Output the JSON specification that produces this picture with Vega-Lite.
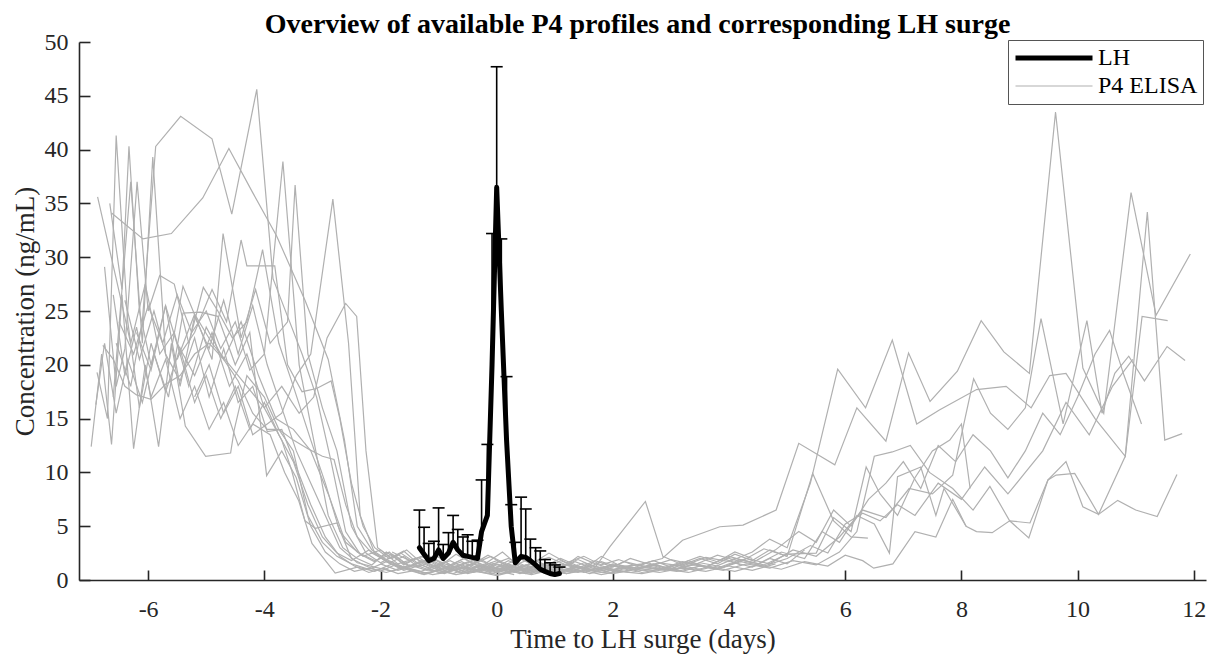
{
  "$schema": "https://vega.github.io/schema/vega-lite/v6.json",
  "autosize": {"type": "none"},
  "width": 1127,
  "height": 538,
  "padding": {"left": 79, "top": 42, "right": 8, "bottom": 80},
  "background": "white",
  "config": {
    "view": {"stroke": null},
    "font": "Liberation Serif",
    "axis": {"grid": false, "domainColor": "#262626", "tickColor": "#262626", "domainWidth": 1.6, "tickWidth": 1.6, "labelColor": "#262626", "titleColor": "#262626", "labelFont": "Liberation Serif", "titleFont": "Liberation Serif", "labelFontSize": 24, "titleFontSize": 27, "titleFontWeight": "normal"}
  },
  "title": {"text": "Overview of available P4 profiles and corresponding LH surge", "font": "Liberation Serif", "fontSize": 28, "fontWeight": "bold", "color": "black", "anchor": "middle", "offset": 4, "dx": -5, "dy": 13},
  "datasets": {
    "lh": [
      {"t": -1.33, "v": 3.0, "hi": 6.5}, {"t": -1.25, "v": 2.4, "hi": 4.9}, {"t": -1.17, "v": 1.8, "hi": 3.4}, {"t": -1.08, "v": 2.0, "hi": 3.6}, {"t": -1.0, "v": 2.8, "hi": 6.7}, {"t": -0.92, "v": 2.0, "hi": 3.3}, {"t": -0.83, "v": 2.5, "hi": 4.4}, {"t": -0.75, "v": 3.5, "hi": 6.0}, {"t": -0.67, "v": 2.8, "hi": 4.7}, {"t": -0.58, "v": 2.3, "hi": 4.0}, {"t": -0.5, "v": 2.2, "hi": 4.2}, {"t": -0.42, "v": 2.1, "hi": 3.6}, {"t": -0.33, "v": 2.0, "hi": 3.7}, {"t": -0.26, "v": 4.5, "hi": 9.3}, {"t": -0.16, "v": 6.0, "hi": 12.6}, {"t": -0.08, "v": 20.0, "hi": 32.2}, {"t": 0.0, "v": 36.5, "hi": 47.7}, {"t": 0.08, "v": 25.0, "hi": 31.7}, {"t": 0.17, "v": 13.0, "hi": 18.9}, {"t": 0.25, "v": 5.0, "hi": 7.0}, {"t": 0.32, "v": 1.6, "hi": 3.5}, {"t": 0.42, "v": 2.2, "hi": 7.7}, {"t": 0.5, "v": 2.1, "hi": 6.6}, {"t": 0.58, "v": 1.8, "hi": 3.8}, {"t": 0.67, "v": 1.4, "hi": 3.0}, {"t": 0.75, "v": 1.0, "hi": 2.7}, {"t": 0.83, "v": 0.8, "hi": 1.9}, {"t": 0.92, "v": 0.6, "hi": 1.6}, {"t": 1.0, "v": 0.5, "hi": 1.4}, {"t": 1.08, "v": 0.6, "hi": 1.2}
    ],
    "p4": [
      {"id":"A","t":-6.55,"v":22},{"id":"A","t":-6.3,"v":18},{"id":"A","t":-6.1,"v":24},{"id":"A","t":-5.87,"v":40.3},{"id":"A","t":-5.44,"v":43.1},{"id":"A","t":-4.9,"v":41.0},{"id":"A","t":-4.56,"v":34.0},{"id":"A","t":-4.13,"v":45.6},{"id":"A","t":-3.85,"v":28},{"id":"A","t":-3.6,"v":24.5},{"id":"A","t":-3.35,"v":21},{"id":"A","t":-3.1,"v":17},{"id":"A","t":-2.85,"v":11},{"id":"A","t":-2.6,"v":4.5},{"id":"A","t":-2.35,"v":2.4},{"id":"A","t":-2.1,"v":1.7},{"id":"A","t":-1.85,"v":2.6},{"id":"A","t":-1.6,"v":1.4},{"id":"A","t":-1.35,"v":2.1},{"id":"A","t":-1.1,"v":1.3},{"id":"A","t":-0.85,"v":0.8},{"id":"A","t":-0.6,"v":1.4},{"id":"A","t":-0.35,"v":0.9},{"id":"A","t":-0.1,"v":1.6},{"id":"A","t":0.2,"v":1.1},{"id":"A","t":0.5,"v":1.8},{"id":"A","t":0.8,"v":1.2},{"id":"A","t":1.1,"v":0.8},{"id":"A","t":1.4,"v":1.4},
      {"id":"B","t":-6.63,"v":34.1},{"id":"B","t":-6.09,"v":31.7},{"id":"B","t":-5.6,"v":32.2},{"id":"B","t":-5.06,"v":35.5},{"id":"B","t":-4.61,"v":40.1},{"id":"B","t":-4.2,"v":36},{"id":"B","t":-3.79,"v":32},{"id":"B","t":-3.3,"v":26},{"id":"B","t":-2.9,"v":20.5},{"id":"B","t":-2.62,"v":13},{"id":"B","t":-2.4,"v":5},{"id":"B","t":-2.15,"v":2.8},{"id":"B","t":-1.9,"v":1.9},{"id":"B","t":-1.65,"v":2.5},{"id":"B","t":-1.4,"v":1.6},{"id":"B","t":-1.15,"v":1.1},{"id":"B","t":-0.9,"v":1.7},{"id":"B","t":-0.65,"v":1.0},{"id":"B","t":-0.4,"v":1.5},{"id":"B","t":-0.15,"v":2.3},{"id":"B","t":0.15,"v":1.4},{"id":"B","t":0.45,"v":0.9},{"id":"B","t":0.75,"v":1.5},{"id":"B","t":1.05,"v":1.0},{"id":"B","t":1.35,"v":1.7},{"id":"B","t":1.65,"v":1.1},{"id":"B","t":1.95,"v":0.7},{"id":"B","t":2.3,"v":1.2},{"id":"B","t":2.7,"v":0.9},{"id":"B","t":3.1,"v":1.4},{"id":"B","t":3.5,"v":1.0},
      {"id":"C","t":-6.87,"v":35.6},{"id":"C","t":-6.55,"v":28},{"id":"C","t":-6.3,"v":22},{"id":"C","t":-6.05,"v":27.5},{"id":"C","t":-5.8,"v":21},{"id":"C","t":-5.55,"v":23},{"id":"C","t":-5.3,"v":18},{"id":"C","t":-5.0,"v":23.5},{"id":"C","t":-4.7,"v":20.5},{"id":"C","t":-4.4,"v":24},{"id":"C","t":-4.1,"v":19},{"id":"C","t":-3.8,"v":15},{"id":"C","t":-3.5,"v":14},{"id":"C","t":-3.2,"v":12},{"id":"C","t":-2.9,"v":8},{"id":"C","t":-2.6,"v":3.5},{"id":"C","t":-2.3,"v":2.2},{"id":"C","t":-2.0,"v":2.8},{"id":"C","t":-1.7,"v":1.5},{"id":"C","t":-1.4,"v":2.0},{"id":"C","t":-1.1,"v":1.2},{"id":"C","t":-0.8,"v":1.8},{"id":"C","t":-0.5,"v":1.0},{"id":"C","t":-0.2,"v":1.5},{"id":"C","t":0.1,"v":2.6},{"id":"C","t":0.4,"v":1.2},{"id":"C","t":0.7,"v":1.7},{"id":"C","t":1.0,"v":1.1},
      {"id":"D","t":-6.75,"v":29.1},{"id":"D","t":-6.55,"v":18},{"id":"D","t":-6.4,"v":21.5},{"id":"D","t":-6.19,"v":37},{"id":"D","t":-6.0,"v":25},{"id":"D","t":-5.8,"v":28.3},{"id":"D","t":-5.55,"v":27.5},{"id":"D","t":-5.3,"v":22},{"id":"D","t":-5.05,"v":27.2},{"id":"D","t":-4.8,"v":25},{"id":"D","t":-4.55,"v":22.5},{"id":"D","t":-4.3,"v":24},{"id":"D","t":-4.03,"v":30.7},{"id":"D","t":-3.75,"v":22},{"id":"D","t":-3.5,"v":18},{"id":"D","t":-3.2,"v":13},{"id":"D","t":-2.95,"v":9},{"id":"D","t":-2.7,"v":4.5},{"id":"D","t":-2.4,"v":2.6},{"id":"D","t":-2.1,"v":1.8},{"id":"D","t":-1.8,"v":2.4},{"id":"D","t":-1.5,"v":1.3},{"id":"D","t":-1.2,"v":1.9},{"id":"D","t":-0.9,"v":0.9},{"id":"D","t":-0.6,"v":1.5},{"id":"D","t":-0.3,"v":2.0},{"id":"D","t":0.0,"v":1.1},{"id":"D","t":0.3,"v":0.7},{"id":"D","t":0.6,"v":1.3},{"id":"D","t":0.9,"v":0.8},{"id":"D","t":1.2,"v":1.5},{"id":"D","t":1.5,"v":1.0},{"id":"D","t":1.8,"v":2.2},{"id":"D","t":2.1,"v":1.4},{"id":"D","t":2.4,"v":0.9},{"id":"D","t":2.7,"v":1.5},{"id":"D","t":3.0,"v":1.0},{"id":"D","t":3.3,"v":1.8},{"id":"D","t":3.6,"v":1.2},{"id":"D","t":3.9,"v":2.0},{"id":"D","t":4.2,"v":1.4},
      {"id":"E","t":-6.66,"v":35.0},{"id":"E","t":-6.45,"v":27},{"id":"E","t":-6.33,"v":40.3},{"id":"E","t":-6.15,"v":25},{"id":"E","t":-5.95,"v":20},{"id":"E","t":-5.7,"v":25.5},{"id":"E","t":-5.45,"v":18},{"id":"E","t":-5.2,"v":24.5},{"id":"E","t":-4.95,"v":21.5},{"id":"E","t":-4.7,"v":26},{"id":"E","t":-4.45,"v":21},{"id":"E","t":-4.2,"v":25.5},{"id":"E","t":-3.95,"v":20},{"id":"E","t":-3.7,"v":16},{"id":"E","t":-3.45,"v":12},{"id":"E","t":-3.2,"v":9},{"id":"E","t":-2.95,"v":6},{"id":"E","t":-2.7,"v":3.0},{"id":"E","t":-2.4,"v":1.6},{"id":"E","t":-2.1,"v":1.2},{"id":"E","t":-1.8,"v":0.8},{"id":"E","t":-1.5,"v":1.4},{"id":"E","t":-1.2,"v":0.9},{"id":"E","t":-0.9,"v":1.3},{"id":"E","t":-0.6,"v":0.6},{"id":"E","t":-0.3,"v":1.0},{"id":"E","t":0.0,"v":0.5},{"id":"E","t":0.3,"v":0.9},
      {"id":"F","t":-6.88,"v":19.3},{"id":"F","t":-6.7,"v":15},{"id":"F","t":-6.55,"v":41.3},{"id":"F","t":-6.35,"v":24},{"id":"F","t":-6.15,"v":16},{"id":"F","t":-5.95,"v":22},{"id":"F","t":-5.7,"v":17.5},{"id":"F","t":-5.45,"v":21.5},{"id":"F","t":-5.2,"v":16.5},{"id":"F","t":-5.0,"v":19},{"id":"F","t":-4.75,"v":15},{"id":"F","t":-4.5,"v":18},{"id":"F","t":-4.25,"v":14},{"id":"F","t":-4.0,"v":16.5},{"id":"F","t":-3.75,"v":13.5},{"id":"F","t":-3.5,"v":11},{"id":"F","t":-3.25,"v":7},{"id":"F","t":-3.0,"v":4},{"id":"F","t":-2.75,"v":2.5},{"id":"F","t":-2.5,"v":1.8},{"id":"F","t":-2.2,"v":2.8},{"id":"F","t":-1.9,"v":1.7},{"id":"F","t":-1.6,"v":1.0},{"id":"F","t":-1.3,"v":1.8},{"id":"F","t":-1.0,"v":1.2},{"id":"F","t":-0.7,"v":2.4},{"id":"F","t":-0.4,"v":1.5},{"id":"F","t":-0.1,"v":0.9},{"id":"F","t":0.2,"v":1.8},{"id":"F","t":0.5,"v":1.2},{"id":"F","t":0.8,"v":0.7},{"id":"F","t":1.1,"v":1.2},{"id":"F","t":1.4,"v":1.9},{"id":"F","t":1.7,"v":1.2},{"id":"F","t":1.95,"v":3.1},{"id":"F","t":2.56,"v":7.3},{"id":"F","t":2.86,"v":2.2},{"id":"F","t":3.2,"v":1.4},{"id":"F","t":3.5,"v":2.0},{"id":"F","t":3.8,"v":1.5},{"id":"F","t":4.1,"v":2.4},{"id":"F","t":4.4,"v":1.8},{"id":"F","t":4.7,"v":2.8},{"id":"F","t":5.0,"v":2.2},
      {"id":"G","t":-6.98,"v":12.4},{"id":"G","t":-6.8,"v":21},{"id":"G","t":-6.63,"v":12.6},{"id":"G","t":-6.45,"v":26.5},{"id":"G","t":-6.25,"v":12.2},{"id":"G","t":-6.05,"v":20},{"id":"G","t":-5.82,"v":12.4},{"id":"G","t":-5.6,"v":22},{"id":"G","t":-5.36,"v":14.3},{"id":"G","t":-5.01,"v":11.5},{"id":"G","t":-4.58,"v":11.8},{"id":"G","t":-4.52,"v":13.9},{"id":"G","t":-4.3,"v":19},{"id":"G","t":-4.0,"v":17},{"id":"G","t":-3.75,"v":14},{"id":"G","t":-3.5,"v":12},{"id":"G","t":-3.25,"v":6},{"id":"G","t":-3.0,"v":3.5},{"id":"G","t":-2.75,"v":2.2},{"id":"G","t":-2.5,"v":1.5},{"id":"G","t":-2.2,"v":1.0},{"id":"G","t":-1.9,"v":1.7},{"id":"G","t":-1.6,"v":0.9},{"id":"G","t":-1.3,"v":1.4},{"id":"G","t":-1.0,"v":0.7},{"id":"G","t":-0.7,"v":1.2},{"id":"G","t":-0.4,"v":1.8},{"id":"G","t":-0.1,"v":1.1},
      {"id":"H","t":-6.9,"v":16.3},{"id":"H","t":-6.75,"v":22},{"id":"H","t":-6.55,"v":15.5},{"id":"H","t":-6.35,"v":20.5},{"id":"H","t":-6.1,"v":16.5},{"id":"H","t":-5.9,"v":21},{"id":"H","t":-5.65,"v":17},{"id":"H","t":-5.4,"v":24.8},{"id":"H","t":-5.1,"v":24.9},{"id":"H","t":-4.8,"v":24.5},{"id":"H","t":-4.5,"v":20},{"id":"H","t":-4.25,"v":23},{"id":"H","t":-3.96,"v":9.7},{"id":"H","t":-3.7,"v":12},{"id":"H","t":-3.45,"v":9.5},{"id":"H","t":-3.2,"v":5},{"id":"H","t":-2.95,"v":2.6},{"id":"H","t":-2.7,"v":1.5},{"id":"H","t":-2.45,"v":0.8},{"id":"H","t":-2.2,"v":1.1},{"id":"H","t":-1.9,"v":0.7},{"id":"H","t":-1.6,"v":1.2},{"id":"H","t":-1.3,"v":0.6},{"id":"H","t":-1.0,"v":0.9},{"id":"H","t":-0.7,"v":0.5},{"id":"H","t":-0.4,"v":0.8},{"id":"H","t":-0.1,"v":0.6},{"id":"H","t":0.2,"v":1.0},{"id":"H","t":0.5,"v":0.6},{"id":"H","t":0.8,"v":1.1},{"id":"H","t":1.1,"v":0.7},{"id":"H","t":1.4,"v":1.2},{"id":"H","t":1.7,"v":0.8},{"id":"H","t":2.0,"v":0.6},{"id":"H","t":2.4,"v":1.0},{"id":"H","t":2.8,"v":0.7},{"id":"H","t":3.2,"v":1.1},{"id":"H","t":3.6,"v":0.8},{"id":"H","t":4.0,"v":1.3},{"id":"H","t":4.4,"v":0.9},{"id":"H","t":4.8,"v":1.5},
      {"id":"I","t":-6.78,"v":21.8},{"id":"I","t":-6.6,"v":20.5},{"id":"I","t":-6.4,"v":18},{"id":"I","t":-6.2,"v":17.2},{"id":"I","t":-5.95,"v":16.8},{"id":"I","t":-5.7,"v":18.2},{"id":"I","t":-5.45,"v":19},{"id":"I","t":-5.2,"v":21},{"id":"I","t":-4.95,"v":22},{"id":"I","t":-4.7,"v":20.5},{"id":"I","t":-4.45,"v":18.5},{"id":"I","t":-4.2,"v":15.5},{"id":"I","t":-3.95,"v":14},{"id":"I","t":-3.75,"v":14},{"id":"I","t":-3.5,"v":13},{"id":"I","t":-3.25,"v":12.2},{"id":"I","t":-3.0,"v":11.5},{"id":"I","t":-2.8,"v":11.2},{"id":"I","t":-2.6,"v":7},{"id":"I","t":-2.4,"v":4},{"id":"I","t":-2.15,"v":2.5},{"id":"I","t":-1.9,"v":1.8},{"id":"I","t":-1.6,"v":1.2},{"id":"I","t":-1.3,"v":1.6},{"id":"I","t":-1.0,"v":0.9},{"id":"I","t":-0.7,"v":1.3},{"id":"I","t":-0.4,"v":0.8},{"id":"I","t":-0.1,"v":1.3},{"id":"I","t":0.2,"v":0.7},{"id":"I","t":0.5,"v":1.1},
      {"id":"J","t":-6.2,"v":23},{"id":"J","t":-5.95,"v":19.5},{"id":"J","t":-5.7,"v":25.5},{"id":"J","t":-5.45,"v":21},{"id":"J","t":-5.2,"v":23},{"id":"J","t":-4.9,"v":27},{"id":"J","t":-4.65,"v":24},{"id":"J","t":-4.4,"v":31.6},{"id":"J","t":-4.3,"v":29.2},{"id":"J","t":-3.82,"v":29.2},{"id":"J","t":-3.6,"v":20},{"id":"J","t":-3.35,"v":17.5},{"id":"J","t":-3.1,"v":17.8},{"id":"J","t":-2.85,"v":18.5},{"id":"J","t":-2.7,"v":15},{"id":"J","t":-2.5,"v":9},{"id":"J","t":-2.3,"v":5},{"id":"J","t":-2.1,"v":3.0},{"id":"J","t":-1.85,"v":2.0},{"id":"J","t":-1.6,"v":2.7},{"id":"J","t":-1.35,"v":1.5},{"id":"J","t":-1.1,"v":2.0},{"id":"J","t":-0.85,"v":1.2},{"id":"J","t":-0.6,"v":1.7},{"id":"J","t":-0.35,"v":1.0},{"id":"J","t":-0.1,"v":1.4},{"id":"J","t":0.2,"v":2.0},{"id":"J","t":0.5,"v":1.3},{"id":"J","t":0.8,"v":0.9},{"id":"J","t":1.1,"v":1.5},{"id":"J","t":1.4,"v":1.1},{"id":"J","t":1.7,"v":1.8},{"id":"J","t":2.0,"v":1.2},{"id":"J","t":2.3,"v":2.0},{"id":"J","t":2.6,"v":1.5},{"id":"J","t":2.9,"v":1.0},{"id":"J","t":3.2,"v":1.6},{"id":"J","t":3.5,"v":2.2},{"id":"J","t":3.8,"v":1.7},{"id":"J","t":4.1,"v":2.6},{"id":"J","t":4.4,"v":2.0},
      {"id":"K","t":-6.5,"v":24},{"id":"K","t":-6.25,"v":21},{"id":"K","t":-6.0,"v":25.5},{"id":"K","t":-5.75,"v":22},{"id":"K","t":-5.5,"v":26.5},{"id":"K","t":-5.25,"v":23},{"id":"K","t":-5.0,"v":25},{"id":"K","t":-4.75,"v":21.5},{"id":"K","t":-4.5,"v":24},{"id":"K","t":-4.25,"v":19.5},{"id":"K","t":-4.0,"v":21},{"id":"K","t":-3.68,"v":38.9},{"id":"K","t":-3.4,"v":20},{"id":"K","t":-3.15,"v":13},{"id":"K","t":-2.9,"v":6},{"id":"K","t":-2.65,"v":3},{"id":"K","t":-2.4,"v":2.0},{"id":"K","t":-2.15,"v":1.4},{"id":"K","t":-1.9,"v":2.6},{"id":"K","t":-1.6,"v":1.5},{"id":"K","t":-1.3,"v":2.2},{"id":"K","t":-1.0,"v":1.4},{"id":"K","t":-0.7,"v":0.9},{"id":"K","t":-0.4,"v":1.6},{"id":"K","t":-0.1,"v":1.0},{"id":"K","t":0.2,"v":1.5},{"id":"K","t":0.5,"v":0.9},{"id":"K","t":0.8,"v":1.4},{"id":"K","t":1.1,"v":1.0},{"id":"K","t":1.4,"v":2.2},{"id":"K","t":1.7,"v":1.5},{"id":"K","t":2.0,"v":1.0},
      {"id":"L","t":-6.4,"v":26},{"id":"L","t":-6.15,"v":20.5},{"id":"L","t":-5.9,"v":25},{"id":"L","t":-5.65,"v":20},{"id":"L","t":-5.4,"v":27.3},{"id":"L","t":-5.15,"v":24},{"id":"L","t":-4.9,"v":20.5},{"id":"L","t":-4.71,"v":32.2},{"id":"L","t":-4.4,"v":22.5},{"id":"L","t":-4.15,"v":27},{"id":"L","t":-3.9,"v":22},{"id":"L","t":-3.6,"v":24},{"id":"L","t":-3.47,"v":36.7},{"id":"L","t":-3.25,"v":21},{"id":"L","t":-3.0,"v":16},{"id":"L","t":-2.75,"v":12},{"id":"L","t":-2.5,"v":5},{"id":"L","t":-2.25,"v":2.5},{"id":"L","t":-2.0,"v":1.6},{"id":"L","t":-1.75,"v":2.3},{"id":"L","t":-1.5,"v":1.2},{"id":"L","t":-1.25,"v":1.8},{"id":"L","t":-1.0,"v":1.0},{"id":"L","t":-0.75,"v":1.5},{"id":"L","t":-0.5,"v":2.2},{"id":"L","t":-0.25,"v":1.3},{"id":"L","t":0.0,"v":0.8},{"id":"L","t":0.3,"v":1.4},{"id":"L","t":0.6,"v":0.9},{"id":"L","t":0.9,"v":1.6},{"id":"L","t":1.2,"v":1.1},{"id":"L","t":1.5,"v":0.7},{"id":"L","t":1.8,"v":1.2},
      {"id":"M","t":-5.2,"v":17},{"id":"M","t":-4.95,"v":20},{"id":"M","t":-4.7,"v":15.5},{"id":"M","t":-4.45,"v":18},{"id":"M","t":-4.2,"v":13.5},{"id":"M","t":-3.95,"v":14.5},{"id":"M","t":-3.7,"v":15.5},{"id":"M","t":-3.45,"v":19},{"id":"M","t":-3.2,"v":21},{"id":"M","t":-2.82,"v":35.4},{"id":"M","t":-2.55,"v":22},{"id":"M","t":-2.35,"v":6},{"id":"M","t":-2.1,"v":2.5},{"id":"M","t":-1.85,"v":1.6},{"id":"M","t":-1.6,"v":2.2},{"id":"M","t":-1.35,"v":1.2},{"id":"M","t":-1.1,"v":1.8},{"id":"M","t":-0.85,"v":1.1},{"id":"M","t":-0.6,"v":0.7},{"id":"M","t":-0.35,"v":1.2},{"id":"M","t":-0.1,"v":0.8},{"id":"M","t":0.2,"v":1.3},{"id":"M","t":0.5,"v":0.8},{"id":"M","t":0.8,"v":1.2},{"id":"M","t":1.1,"v":2.0},{"id":"M","t":1.4,"v":1.3},{"id":"M","t":1.7,"v":0.9},{"id":"M","t":2.0,"v":1.4},{"id":"M","t":2.3,"v":1.0},{"id":"M","t":2.6,"v":1.6},{"id":"M","t":2.9,"v":1.1},{"id":"M","t":3.2,"v":0.8},{"id":"M","t":3.5,"v":1.3},{"id":"M","t":3.8,"v":1.0},{"id":"M","t":4.1,"v":1.6},{"id":"M","t":4.4,"v":1.2},{"id":"M","t":4.7,"v":2.0},{"id":"M","t":5.0,"v":1.5},{"id":"M","t":5.3,"v":2.8},
      {"id":"N","t":-5.5,"v":22},{"id":"N","t":-5.2,"v":19},{"id":"N","t":-4.9,"v":23},{"id":"N","t":-4.6,"v":18},{"id":"N","t":-4.3,"v":21},{"id":"N","t":-4.0,"v":16},{"id":"N","t":-3.7,"v":18},{"id":"N","t":-3.4,"v":15.5},{"id":"N","t":-3.15,"v":17},{"id":"N","t":-2.92,"v":22.5},{"id":"N","t":-2.6,"v":25.7},{"id":"N","t":-2.41,"v":24.5},{"id":"N","t":-2.25,"v":12},{"id":"N","t":-2.05,"v":3.0},{"id":"N","t":-1.8,"v":2.0},{"id":"N","t":-1.55,"v":2.8},{"id":"N","t":-1.3,"v":1.6},{"id":"N","t":-1.05,"v":2.3},{"id":"N","t":-0.8,"v":1.4},{"id":"N","t":-0.55,"v":2.0},{"id":"N","t":-0.3,"v":1.2},{"id":"N","t":0.0,"v":1.8},{"id":"N","t":0.3,"v":1.0},{"id":"N","t":0.6,"v":1.5},{"id":"N","t":0.9,"v":2.5},{"id":"N","t":1.2,"v":1.6},{"id":"N","t":1.5,"v":2.2},{"id":"N","t":1.8,"v":1.4},{"id":"N","t":2.1,"v":1.9},{"id":"N","t":2.4,"v":1.3},{"id":"N","t":2.7,"v":1.8},{"id":"N","t":3.0,"v":1.2},
      {"id":"O","t":-6.6,"v":17},{"id":"O","t":-6.3,"v":37.0},{"id":"O","t":-6.1,"v":22},{"id":"O","t":-5.92,"v":39.3},{"id":"O","t":-5.7,"v":21},{"id":"O","t":-5.45,"v":18.5},{"id":"O","t":-5.2,"v":22.5},{"id":"O","t":-4.95,"v":17},{"id":"O","t":-4.7,"v":21.5},{"id":"O","t":-4.45,"v":16.5},{"id":"O","t":-4.2,"v":18},{"id":"O","t":-3.95,"v":13.8},{"id":"O","t":-3.7,"v":14.0},{"id":"O","t":-3.45,"v":10.5},{"id":"O","t":-3.2,"v":7},{"id":"O","t":-2.95,"v":4.0},{"id":"O","t":-2.7,"v":2.2},{"id":"O","t":-2.45,"v":1.3},{"id":"O","t":-2.2,"v":0.7},{"id":"O","t":-1.95,"v":1.1},{"id":"O","t":-1.7,"v":0.6},{"id":"O","t":-1.4,"v":0.9},{"id":"O","t":-1.1,"v":0.5},{"id":"O","t":-0.8,"v":0.8},{"id":"O","t":-0.5,"v":1.2},{"id":"O","t":-0.2,"v":0.7},{"id":"O","t":0.1,"v":1.1},{"id":"O","t":0.4,"v":0.6},{"id":"O","t":0.7,"v":1.0},{"id":"O","t":1.0,"v":0.5},{"id":"O","t":1.3,"v":0.9},{"id":"O","t":1.6,"v":1.3},{"id":"O","t":1.9,"v":0.8},{"id":"O","t":2.2,"v":1.2},{"id":"O","t":2.5,"v":0.7},{"id":"O","t":2.8,"v":1.0},{"id":"O","t":3.1,"v":1.4},{"id":"O","t":3.4,"v":0.9},{"id":"O","t":3.7,"v":1.3},
      {"id":"P","t":-5.5,"v":20.5},{"id":"P","t":-5.2,"v":24.7},{"id":"P","t":-4.9,"v":22},{"id":"P","t":-4.6,"v":20},{"id":"P","t":-4.3,"v":18},{"id":"P","t":-4.0,"v":16},{"id":"P","t":-3.7,"v":13},{"id":"P","t":-3.53,"v":10.2},{"id":"P","t":-3.3,"v":5.5},{"id":"P","t":-3.12,"v":4.8},{"id":"P","t":-2.75,"v":5.3},{"id":"P","t":-2.5,"v":2.0},{"id":"P","t":-2.25,"v":1.3},{"id":"P","t":-2.0,"v":0.8},{"id":"P","t":-1.75,"v":1.4},{"id":"P","t":-1.5,"v":0.9},{"id":"P","t":-1.25,"v":0.5},{"id":"P","t":-1.0,"v":0.9},{"id":"P","t":-0.75,"v":0.6},{"id":"P","t":-0.5,"v":1.1},{"id":"P","t":-0.25,"v":0.7},{"id":"P","t":0.0,"v":0.4},{"id":"P","t":0.3,"v":0.8},{"id":"P","t":0.6,"v":0.5},{"id":"P","t":0.9,"v":0.9},{"id":"P","t":1.2,"v":0.6},{"id":"P","t":1.5,"v":1.0},{"id":"P","t":1.8,"v":0.7},{"id":"P","t":2.1,"v":1.1},
      {"id":"Q","t":-6.6,"v":26.5},{"id":"Q","t":-6.4,"v":19},{"id":"Q","t":-6.2,"v":23.5},{"id":"Q","t":-5.95,"v":17},{"id":"Q","t":-5.7,"v":20.5},{"id":"Q","t":-5.45,"v":15},{"id":"Q","t":-5.2,"v":18},{"id":"Q","t":-4.95,"v":14},{"id":"Q","t":-4.7,"v":16.5},{"id":"Q","t":-4.45,"v":12.5},{"id":"Q","t":-4.2,"v":14.5},{"id":"Q","t":-3.9,"v":13.5},{"id":"Q","t":-3.65,"v":10},{"id":"Q","t":-3.41,"v":7.4},{"id":"Q","t":-3.18,"v":3.4},{"id":"Q","t":-2.78,"v":0.65},{"id":"Q","t":-2.4,"v":1.2},{"id":"Q","t":-2.1,"v":0.8},{"id":"Q","t":-1.8,"v":1.5},{"id":"Q","t":-1.5,"v":1.0},{"id":"Q","t":-1.2,"v":0.6},{"id":"Q","t":-0.9,"v":1.1},{"id":"Q","t":-0.6,"v":0.7},{"id":"Q","t":-0.3,"v":1.3},{"id":"Q","t":0.0,"v":0.9},{"id":"Q","t":0.3,"v":0.5},
      {"id":"R1","t":-1.8,"v":2.6},{"id":"R1","t":-1.5,"v":1.8},{"id":"R1","t":-1.2,"v":2.3},{"id":"R1","t":-0.9,"v":1.5},{"id":"R1","t":-0.6,"v":1.1},{"id":"R1","t":-0.3,"v":1.8},{"id":"R1","t":0.0,"v":1.3},{"id":"R1","t":0.3,"v":0.9},{"id":"R1","t":0.6,"v":1.6},{"id":"R1","t":0.9,"v":2.1},{"id":"R1","t":1.2,"v":1.4},{"id":"R1","t":1.5,"v":1.0},{"id":"R1","t":1.8,"v":1.7},{"id":"R1","t":2.1,"v":1.2},{"id":"R1","t":2.5,"v":1.5},{"id":"R1","t":2.85,"v":2.0},{"id":"R1","t":3.2,"v":3.7},{"id":"R1","t":3.84,"v":4.95},{"id":"R1","t":4.24,"v":5.1},{"id":"R1","t":4.81,"v":6.5},{"id":"R1","t":5.2,"v":12.7},{"id":"R1","t":5.82,"v":10.7},{"id":"R1","t":6.2,"v":16},{"id":"R1","t":6.7,"v":12.9},{"id":"R1","t":7.09,"v":21.1},{"id":"R1","t":7.46,"v":16.6},{"id":"R1","t":7.93,"v":19.4},{"id":"R1","t":8.34,"v":24.1},{"id":"R1","t":8.73,"v":21.2},{"id":"R1","t":9.17,"v":19.2},{"id":"R1","t":9.62,"v":43.5},{"id":"R1","t":10.09,"v":19.7},{"id":"R1","t":10.45,"v":15.5},{"id":"R1","t":10.92,"v":36.0},{"id":"R1","t":11.35,"v":24.6},{"id":"R1","t":11.94,"v":30.3},
      {"id":"R2","t":-1.9,"v":1.9},{"id":"R2","t":-1.6,"v":1.2},{"id":"R2","t":-1.3,"v":0.8},{"id":"R2","t":-1.0,"v":1.4},{"id":"R2","t":-0.7,"v":0.9},{"id":"R2","t":-0.4,"v":1.5},{"id":"R2","t":-0.1,"v":2.2},{"id":"R2","t":0.2,"v":1.4},{"id":"R2","t":0.5,"v":0.8},{"id":"R2","t":0.8,"v":1.2},{"id":"R2","t":1.1,"v":0.7},{"id":"R2","t":1.4,"v":1.3},{"id":"R2","t":1.7,"v":0.9},{"id":"R2","t":2.0,"v":1.5},{"id":"R2","t":2.4,"v":1.1},{"id":"R2","t":2.8,"v":1.6},{"id":"R2","t":3.2,"v":1.3},{"id":"R2","t":3.6,"v":2.1},{"id":"R2","t":4.0,"v":1.7},{"id":"R2","t":4.4,"v":2.6},{"id":"R2","t":4.7,"v":3.8},{"id":"R2","t":5.0,"v":3.0},{"id":"R2","t":5.4,"v":9},{"id":"R2","t":5.87,"v":19.6},{"id":"R2","t":6.35,"v":16},{"id":"R2","t":6.81,"v":22.3},{"id":"R2","t":7.23,"v":14.5},{"id":"R2","t":7.62,"v":15.8},{"id":"R2","t":8.26,"v":17.7},{"id":"R2","t":8.77,"v":18.0},{"id":"R2","t":9.2,"v":16.0},{"id":"R2","t":9.52,"v":19.0},{"id":"R2","t":9.8,"v":19.2},{"id":"R2","t":10.3,"v":15},{"id":"R2","t":10.82,"v":11.5},{"id":"R2","t":11.11,"v":24.5},{"id":"R2","t":11.55,"v":24.1},
      {"id":"R3","t":-1.0,"v":0.6},{"id":"R3","t":-0.7,"v":1.0},{"id":"R3","t":-0.4,"v":0.7},{"id":"R3","t":-0.1,"v":1.2},{"id":"R3","t":0.2,"v":0.8},{"id":"R3","t":0.5,"v":1.4},{"id":"R3","t":0.8,"v":0.9},{"id":"R3","t":1.1,"v":1.8},{"id":"R3","t":1.4,"v":1.2},{"id":"R3","t":1.7,"v":0.8},{"id":"R3","t":2.0,"v":1.3},{"id":"R3","t":2.3,"v":0.9},{"id":"R3","t":2.7,"v":1.4},{"id":"R3","t":3.1,"v":1.0},{"id":"R3","t":3.5,"v":1.6},{"id":"R3","t":3.9,"v":1.2},{"id":"R3","t":4.3,"v":2.0},{"id":"R3","t":4.7,"v":1.5},{"id":"R3","t":5.1,"v":2.8},{"id":"R3","t":5.5,"v":2.2},{"id":"R3","t":5.9,"v":4.0},{"id":"R3","t":6.3,"v":6.5},{"id":"R3","t":6.7,"v":5.8},{"id":"R3","t":7.1,"v":8.5},{"id":"R3","t":7.5,"v":8.0},{"id":"R3","t":7.85,"v":9.75},{"id":"R3","t":8.21,"v":18.7},{"id":"R3","t":8.5,"v":15.5},{"id":"R3","t":8.8,"v":14.0},{"id":"R3","t":9.1,"v":16.0},{"id":"R3","t":9.37,"v":24.3},{"id":"R3","t":9.75,"v":14.5},{"id":"R3","t":10.16,"v":24.1},{"id":"R3","t":10.42,"v":15.5},{"id":"R3","t":10.64,"v":19.2},{"id":"R3","t":10.88,"v":20.8},{"id":"R3","t":11.15,"v":18.5},{"id":"R3","t":11.54,"v":21.7},{"id":"R3","t":11.85,"v":20.4},
      {"id":"R4","t":-0.5,"v":1.5},{"id":"R4","t":-0.2,"v":0.9},{"id":"R4","t":0.1,"v":1.3},{"id":"R4","t":0.4,"v":2.0},{"id":"R4","t":0.7,"v":1.2},{"id":"R4","t":1.0,"v":0.7},{"id":"R4","t":1.3,"v":1.1},{"id":"R4","t":1.6,"v":0.6},{"id":"R4","t":1.9,"v":1.0},{"id":"R4","t":2.3,"v":0.7},{"id":"R4","t":2.7,"v":1.1},{"id":"R4","t":3.1,"v":0.8},{"id":"R4","t":3.5,"v":1.3},{"id":"R4","t":3.9,"v":0.9},{"id":"R4","t":4.3,"v":1.5},{"id":"R4","t":4.7,"v":1.1},{"id":"R4","t":5.1,"v":1.8},{"id":"R4","t":5.5,"v":1.4},{"id":"R4","t":5.9,"v":2.6},{"id":"R4","t":6.2,"v":4.5},{"id":"R4","t":6.5,"v":11.5},{"id":"R4","t":6.81,"v":11.9},{"id":"R4","t":7.12,"v":12.5},{"id":"R4","t":7.45,"v":10.0},{"id":"R4","t":7.85,"v":8.5},{"id":"R4","t":8.2,"v":6.5},{"id":"R4","t":8.49,"v":8.7},{"id":"R4","t":8.83,"v":5.5},{"id":"R4","t":9.16,"v":3.9},{"id":"R4","t":9.49,"v":9.3},{"id":"R4","t":9.63,"v":9.75},{"id":"R4","t":9.95,"v":9.9},{"id":"R4","t":10.36,"v":6.1},{"id":"R4","t":10.82,"v":11.5},{"id":"R4","t":11.2,"v":34.2},{"id":"R4","t":11.5,"v":13},{"id":"R4","t":11.8,"v":13.6},
      {"id":"R5","t":0.0,"v":0.8},{"id":"R5","t":0.3,"v":1.2},{"id":"R5","t":0.6,"v":0.7},{"id":"R5","t":0.9,"v":1.0},{"id":"R5","t":1.2,"v":0.6},{"id":"R5","t":1.5,"v":0.9},{"id":"R5","t":1.8,"v":0.5},{"id":"R5","t":2.1,"v":0.8},{"id":"R5","t":2.5,"v":0.6},{"id":"R5","t":2.9,"v":1.0},{"id":"R5","t":3.3,"v":0.7},{"id":"R5","t":3.7,"v":1.2},{"id":"R5","t":4.1,"v":0.8},{"id":"R5","t":4.5,"v":1.4},{"id":"R5","t":4.9,"v":1.0},{"id":"R5","t":5.3,"v":1.7},{"id":"R5","t":5.7,"v":1.3},{"id":"R5","t":6.0,"v":2.3},{"id":"R5","t":6.3,"v":1.8},{"id":"R5","t":6.49,"v":1.1},{"id":"R5","t":6.82,"v":1.5},{"id":"R5","t":7.2,"v":4.5},{"id":"R5","t":7.56,"v":4.0},{"id":"R5","t":7.85,"v":7.5},{"id":"R5","t":8.08,"v":5.0},{"id":"R5","t":8.26,"v":4.5},{"id":"R5","t":8.53,"v":4.4},{"id":"R5","t":8.83,"v":5.5},{"id":"R5","t":9.18,"v":5.3},{"id":"R5","t":9.49,"v":9.3},{"id":"R5","t":9.8,"v":11.0},{"id":"R5","t":10.09,"v":6.8},{"id":"R5","t":10.36,"v":6.1},{"id":"R5","t":10.69,"v":7.4},{"id":"R5","t":11.0,"v":6.5},{"id":"R5","t":11.37,"v":5.9},{"id":"R5","t":11.71,"v":9.8},
      {"id":"R6","t":-1.2,"v":1.0},{"id":"R6","t":-0.9,"v":0.6},{"id":"R6","t":-0.6,"v":1.2},{"id":"R6","t":-0.3,"v":0.8},{"id":"R6","t":0.0,"v":1.5},{"id":"R6","t":0.3,"v":1.0},{"id":"R6","t":0.6,"v":0.6},{"id":"R6","t":0.9,"v":1.3},{"id":"R6","t":1.2,"v":0.9},{"id":"R6","t":1.5,"v":1.6},{"id":"R6","t":1.8,"v":1.1},{"id":"R6","t":2.1,"v":0.7},{"id":"R6","t":2.5,"v":1.2},{"id":"R6","t":2.9,"v":0.9},{"id":"R6","t":3.3,"v":1.6},{"id":"R6","t":3.7,"v":1.1},{"id":"R6","t":4.1,"v":2.0},{"id":"R6","t":4.5,"v":1.5},{"id":"R6","t":4.9,"v":2.6},{"id":"R6","t":5.3,"v":2.0},{"id":"R6","t":5.6,"v":4.5},{"id":"R6","t":5.9,"v":3.5},{"id":"R6","t":6.2,"v":6.0},{"id":"R6","t":6.5,"v":5.2},{"id":"R6","t":6.76,"v":2.5},{"id":"R6","t":6.9,"v":9.6},{"id":"R6","t":7.3,"v":10.5},{"id":"R6","t":7.56,"v":6.0},{"id":"R6","t":7.7,"v":8.5},{"id":"R6","t":8.08,"v":5.0},
      {"id":"R7","t":-2.0,"v":1.5},{"id":"R7","t":-1.7,"v":0.9},{"id":"R7","t":-1.4,"v":1.4},{"id":"R7","t":-1.1,"v":0.8},{"id":"R7","t":-0.8,"v":1.3},{"id":"R7","t":-0.5,"v":0.6},{"id":"R7","t":-0.2,"v":1.0},{"id":"R7","t":0.1,"v":0.6},{"id":"R7","t":0.4,"v":1.1},{"id":"R7","t":0.7,"v":0.7},{"id":"R7","t":1.0,"v":1.2},{"id":"R7","t":1.3,"v":0.8},{"id":"R7","t":1.6,"v":1.4},{"id":"R7","t":1.9,"v":1.0},{"id":"R7","t":2.2,"v":1.7},{"id":"R7","t":2.6,"v":1.2},{"id":"R7","t":3.0,"v":1.9},{"id":"R7","t":3.4,"v":1.4},{"id":"R7","t":3.8,"v":2.3},{"id":"R7","t":4.2,"v":1.7},{"id":"R7","t":4.6,"v":2.9},{"id":"R7","t":5.0,"v":2.2},{"id":"R7","t":5.44,"v":9.9},{"id":"R7","t":5.8,"v":5.5},{"id":"R7","t":6.1,"v":4.0},{"id":"R7","t":6.39,"v":3.9},
      {"id":"R8","t":1.0,"v":1.0},{"id":"R8","t":1.4,"v":0.7},{"id":"R8","t":1.8,"v":1.2},{"id":"R8","t":2.2,"v":0.8},{"id":"R8","t":2.6,"v":1.3},{"id":"R8","t":3.0,"v":0.9},{"id":"R8","t":3.4,"v":1.5},{"id":"R8","t":3.8,"v":1.1},{"id":"R8","t":4.2,"v":1.9},{"id":"R8","t":4.6,"v":1.4},{"id":"R8","t":5.0,"v":2.4},{"id":"R8","t":5.5,"v":2.5},{"id":"R8","t":5.8,"v":5.8},{"id":"R8","t":6.1,"v":4.5},{"id":"R8","t":6.36,"v":10.5},{"id":"R8","t":6.6,"v":8.0},{"id":"R8","t":6.9,"v":6.0},{"id":"R8","t":7.2,"v":9.5},{"id":"R8","t":7.5,"v":12.0},{"id":"R8","t":7.8,"v":13.0},{"id":"R8","t":8.0,"v":14.5},{"id":"R8","t":8.15,"v":8.5},
      {"id":"R9","t":2.0,"v":0.9},{"id":"R9","t":2.4,"v":1.4},{"id":"R9","t":2.8,"v":1.0},{"id":"R9","t":3.2,"v":1.7},{"id":"R9","t":3.6,"v":1.2},{"id":"R9","t":4.0,"v":2.2},{"id":"R9","t":4.4,"v":1.6},{"id":"R9","t":4.8,"v":2.8},{"id":"R9","t":5.2,"v":4.5},{"id":"R9","t":5.5,"v":3.5},{"id":"R9","t":5.8,"v":6.5},{"id":"R9","t":6.1,"v":5.0},{"id":"R9","t":6.4,"v":7.5},{"id":"R9","t":6.7,"v":9.0},{"id":"R9","t":7.0,"v":11.0},{"id":"R9","t":7.3,"v":8.5},{"id":"R9","t":7.6,"v":12.5},{"id":"R9","t":7.9,"v":11.0},{"id":"R9","t":8.2,"v":13.5},{"id":"R9","t":8.5,"v":12.0},{"id":"R9","t":8.8,"v":9.5},{"id":"R9","t":9.1,"v":12.0},{"id":"R9","t":9.4,"v":15.5},{"id":"R9","t":9.7,"v":13.5},{"id":"R9","t":10.0,"v":17.0},{"id":"R9","t":10.3,"v":21.0},{"id":"R9","t":10.55,"v":23.2},{"id":"R9","t":10.8,"v":19.0},{"id":"R9","t":11.1,"v":14.5},
      {"id":"R10","t":3.0,"v":1.0},{"id":"R10","t":3.4,"v":1.4},{"id":"R10","t":3.8,"v":1.0},{"id":"R10","t":4.2,"v":1.7},{"id":"R10","t":4.6,"v":1.3},{"id":"R10","t":5.0,"v":2.0},{"id":"R10","t":5.4,"v":3.2},{"id":"R10","t":5.7,"v":2.5},{"id":"R10","t":6.0,"v":5.2},{"id":"R10","t":6.3,"v":6.2},{"id":"R10","t":6.6,"v":5.5},{"id":"R10","t":6.9,"v":7.0},{"id":"R10","t":7.2,"v":6.0},{"id":"R10","t":7.6,"v":9.0},{"id":"R10","t":8.0,"v":7.5},{"id":"R10","t":8.4,"v":10.5},{"id":"R10","t":8.8,"v":8.0},{"id":"R10","t":9.1,"v":10.0},{"id":"R10","t":9.4,"v":12.0},{"id":"R10","t":9.8,"v":16.5},{"id":"R10","t":10.2,"v":13.5},{"id":"R10","t":10.6,"v":18.0},{"id":"R10","t":10.95,"v":20.5}
    ]
  },
  "layer": [
    {
      "data": {"name": "p4"},
      "mark": {"type": "line", "strokeJoin": "miter"},
      "encoding": {
        "x": {"field": "t", "type": "quantitative", "scale": {"domain": [-7.19, 12.21], "nice": false, "zero": false},
              "axis": {"title": "Time to LH surge (days)", "values": [-6, -4, -2, 0, 2, 4, 6, 8, 10, 12], "labelExpr": "'' + datum.value", "labelFont": "Liberation Serif", "labelFontSize": 24, "tickSize": -10, "labelPadding": 27, "titlePadding": 5, "labelFlush": false, "labelOverlap": false}},
        "y": {"field": "v", "type": "quantitative", "scale": {"domain": [0, 50], "nice": false},
              "axis": {"title": "Concentration (ng/mL)", "values": [0, 5, 10, 15, 20, 25, 30, 35, 40, 45, 50], "labelExpr": "'' + datum.value", "labelFont": "Liberation Serif", "labelFontSize": 24, "tickSize": -11, "labelPadding": 22, "titlePadding": 5, "labelFlush": false, "labelOverlap": false}},
        "detail": {"field": "id", "type": "nominal"},
        "color": {"datum": "P4 ELISA", "type": "nominal", "scale": {"domain": ["LH", "P4 ELISA"], "range": ["#000000", "#b0b0b0"]},
                  "legend": {"orient": "none", "legendX": 929, "legendY": -2, "title": null, "symbolType": "stroke", "symbolSize": 5929, "clipHeight": 26, "rowPadding": 2, "labelFont": "Liberation Serif", "labelFontSize": 24, "labelColor": "black", "labelOffset": 3, "strokeColor": "#555555", "fillColor": "white", "padding": 5}},
        "strokeWidth": {"datum": "P4 ELISA", "type": "nominal", "scale": {"domain": ["LH", "P4 ELISA"], "range": [5, 1.2]},
                  "legend": {"orient": "none", "legendX": 929, "legendY": -2, "title": null, "symbolType": "stroke", "symbolSize": 5929, "clipHeight": 26, "rowPadding": 2, "labelFont": "Liberation Serif", "labelFontSize": 24, "labelColor": "black", "labelOffset": 3, "strokeColor": "#555555", "fillColor": "white", "padding": 5}}
      }
    },
    {
      "data": {"name": "lh"},
      "mark": {"type": "rule", "color": "black", "strokeWidth": 1.6},
      "encoding": {
        "x": {"field": "t", "type": "quantitative"},
        "y": {"field": "v", "type": "quantitative"},
        "y2": {"field": "hi"}
      }
    },
    {
      "data": {"name": "lh"},
      "mark": {"type": "tick", "orient": "horizontal", "color": "black", "thickness": 1.6, "size": 12, "opacity": 1},
      "encoding": {
        "x": {"field": "t", "type": "quantitative"},
        "y": {"field": "hi", "type": "quantitative"}
      }
    },
    {
      "data": {"name": "lh"},
      "mark": {"type": "line", "strokeJoin": "round", "strokeCap": "round"},
      "encoding": {
        "x": {"field": "t", "type": "quantitative"},
        "y": {"field": "v", "type": "quantitative"},
        "color": {"datum": "LH", "type": "nominal"},
        "strokeWidth": {"datum": "LH", "type": "nominal"}
      }
    }
  ]
}
